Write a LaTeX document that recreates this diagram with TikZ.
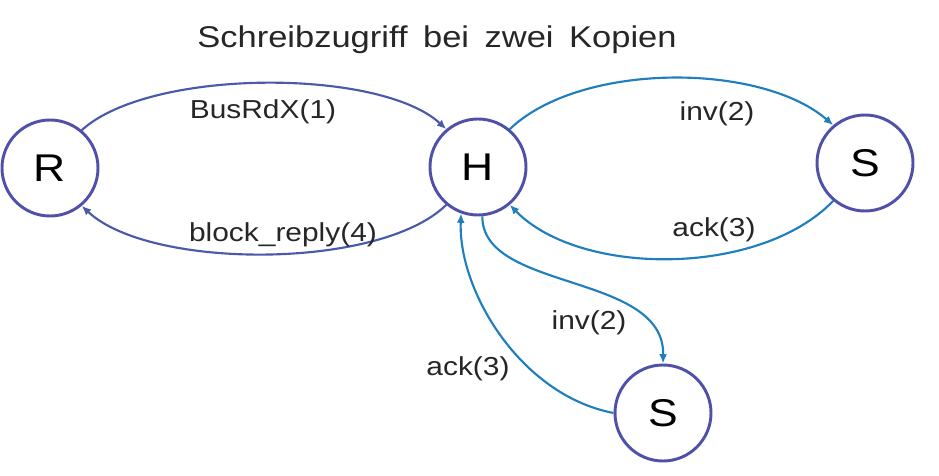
\documentclass[tikz,border=0pt]{standalone}
\usepackage{fontspec}
\setmainfont{Liberation Sans}
\usetikzlibrary{arrows.meta}
\definecolor{circ}{HTML}{5050A8}
\definecolor{edgeA}{HTML}{4A5AA8}
\definecolor{edgeB}{HTML}{1F7EBE}
\newcommand{\sxt}[1]{\scalebox{1.15}[1]{#1}}
\tikzset{
  state/.style={circle, draw=circ, line width=2.2pt, minimum size=72pt, inner sep=0pt, font=\fontsize{29}{33}\selectfont},
  lbl/.style={font=\fontsize{19.5}{23}\selectfont, text=black!85, inner sep=0pt},
  ttl/.style={font=\fontsize{22.5}{26}\selectfont, text=black!85, inner sep=0pt},
  conA/.style={draw=edgeA, line width=1.6pt, -{Latex[length=7pt,width=6pt]}},
  conB/.style={draw=edgeB, line width=1.6pt, -{Latex[length=7pt,width=6pt]}},
}
\begin{document}
\begin{tikzpicture}[x=0.75pt,y=-0.75pt]
\useasboundingbox (0,0) rectangle (939,475);
\node[ttl] (title) at (437,40) {\sxt{Schreibzugriff\hspace{0.45em}bei\hspace{0.45em}zwei\hspace{0.45em}Kopien}};
\node[state] (R) at (50,168) {\sxt{R}};
\node[state] (H) at (478,167) {\sxt{H}};
\node[state] (S1) at (865,163) {\sxt{S}};
\node[state] (S2) at (663,413) {\sxt{S}};
% edges
\draw[conA] (R.50) .. controls (150,68) and (380,68) .. (H.130);
\draw[conA] (H.230) .. controls (380,270) and (150,270) .. (R.310);
\draw[conB] (H.50) .. controls (580,62) and (760,62) .. (S1.130);
\draw[conB] (S1.230) .. controls (760,277) and (580,277) .. (H.310);
\draw[conB] (H.275) .. controls (482,292) and (665,272) .. (S2.north);
\draw[conB] (S2.west) .. controls (520,395) and (458,290) .. (H.250);
% labels
\node[lbl] (l1) at (263,112) {\sxt{BusRdX(1)}};
\node[lbl] (l2) at (283,235) {\sxt{block\_reply(4)}};
\node[lbl] (l3) at (717,114) {\sxt{inv(2)}};
\node[lbl] (l4) at (714,230) {\sxt{ack(3)}};
\node[lbl] (l5) at (589,323) {\sxt{inv(2)}};
\node[lbl] (l6) at (468,369) {\sxt{ack(3)}};
\end{tikzpicture}
\end{document}
